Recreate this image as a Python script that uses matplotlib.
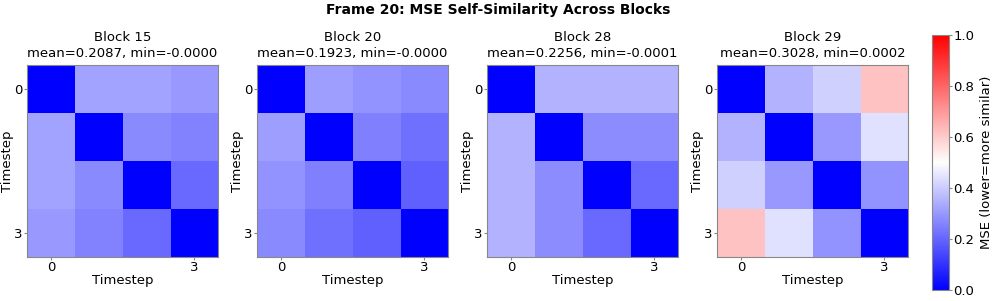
import numpy as np
import matplotlib
matplotlib.use('Agg')
import matplotlib.pyplot as plt

blocks = [15, 20, 28, 29]
means = ['0.2087', '0.1923', '0.2256', '0.3028']
mins = ['-0.0000', '-0.0000', '-0.0001', '0.0002']

# off-diagonal pairs: (0,1), (0,2), (0,3), (1,2), (1,3), (2,3)
pairs_15 = [0.32, 0.32, 0.30, 0.27, 0.255, 0.21]
pairs_20 = [0.31, 0.29, 0.27, 0.25, 0.22, 0.19]
pairs_28 = [0.35, 0.35, 0.35, 0.275, 0.275, 0.21]
pairs_29 = [0.35, 0.41, 0.62, 0.30, 0.44, 0.29]
diag_min = [0.0, 0.0, 0.0, 0.0002]


def build_matrix(pairs, d):
    m = np.full((4, 4), d)
    idx = [(0, 1), (0, 2), (0, 3), (1, 2), (1, 3), (2, 3)]
    for (i, j), v in zip(idx, pairs):
        m[i, j] = v
        m[j, i] = v
    return m


mats = [build_matrix(p, d) for p, d in zip([pairs_15, pairs_20, pairs_28, pairs_29], diag_min)]

fig = plt.figure(figsize=(9.96, 3.01), dpi=100)
fig.suptitle('Frame 20: MSE Self-Similarity Across Blocks', fontsize=10, fontweight='bold', y=0.99)

fs = 9.5
lefts = [27, 257, 487, 717]
for k, (blk, m) in enumerate(zip(blocks, mats)):
    ax = fig.add_axes([lefts[k] / 996, 44 / 301, 191 / 996, 192 / 301])
    im = ax.imshow(m, cmap='bwr', vmin=0, vmax=1, aspect='auto')
    ax.set_title(f'Block {blk}\nmean={means[k]}, min={mins[k]}', fontsize=fs, linespacing=1.3, pad=6)
    ax.set_xticks([0, 3])
    ax.set_yticks([0, 3])
    ax.tick_params(labelsize=fs, length=2, color='#888888', pad=1)
    ax.set_xlabel('Timestep', fontsize=fs, labelpad=0)
    ax.set_ylabel('Timestep', fontsize=fs, labelpad=0)
    for s in ax.spines.values():
        s.set_color('#888888')

cax = fig.add_axes([932 / 996, 11 / 301, 17 / 996, 255 / 301])
cb = fig.colorbar(im, cax=cax)
cb.set_label('MSE (lower=more similar)', fontsize=fs)
cb.ax.tick_params(labelsize=fs, length=2, color='#888888', pad=1)
cb.outline.set_edgecolor('#888888')

fig.savefig('out.png', dpi=100)
